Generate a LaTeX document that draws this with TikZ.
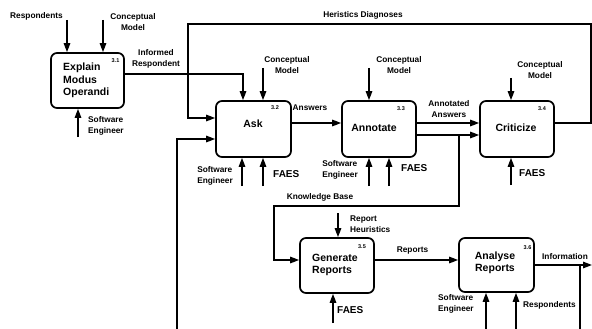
\documentclass[tikz,border=0pt]{standalone}
\usepackage{fontspec}
\setmainfont{Liberation Sans}
\usetikzlibrary{arrows.meta}
\begin{document}
\begin{tikzpicture}[x=1pt,y=-1pt,
  proc/.style={draw,line width=1.7pt,rounded corners=6pt,minimum width=#1,inner sep=0pt},
  flow/.style={line width=1.4pt,-{Triangle[length=9pt,width=6.5pt]}},
  plain/.style={line width=1.4pt},
  lbl/.style={font=\bfseries\fontsize{8.3}{11}\selectfont,align=center,inner sep=0pt},
  ttl/.style={font=\bfseries\fontsize{10.5}{12.5}\selectfont,align=left,inner sep=0pt},
  num/.style={font=\bfseries\fontsize{5.5}{6}\selectfont,inner sep=0pt},
  faes/.style={font=\bfseries\fontsize{10}{12}\selectfont,inner sep=0pt,anchor=west}
]
\useasboundingbox (0,0) rectangle (592,329);

% activity boxes
\node[proc=73pt,minimum height=55pt] (b1) at (87.5,80.5) {};
\node[proc=75pt,minimum height=56pt] (b2) at (253.5,129) {};
\node[proc=74pt,minimum height=56pt] (b3) at (379,129) {};
\node[proc=74pt,minimum height=56pt] (b4) at (517,129) {};
\node[proc=74pt,minimum height=55pt] (b5) at (337,265.5) {};
\node[proc=75pt,minimum height=54pt] (b6) at (496.5,265) {};

% box titles and numbers
\node[ttl,anchor=west] (t1) at (63,80.5) {Explain\\Modus\\Operandi};
\node[ttl] (t2) at (253,124) {Ask};
\node[ttl] (t3) at (374,128) {Annotate};
\node[ttl] (t4) at (516,128) {Criticize};
\node[ttl,anchor=west] (t5) at (312,265) {Generate\\Reports};
\node[ttl,align=center] (t6) at (495,263) {Analyse\\Reports};
\node[num] (n1) at (115.5,61) {3.1};
\node[num] (n2) at (275,108) {3.2};
\node[num] (n3) at (401,109) {3.3};
\node[num] (n4) at (542,109) {3.4};
\node[num] (n5) at (362,247) {3.5};
\node[num] (n6) at (527.5,248) {3.6};

% free ends of the connectors
\coordinate (r1) at (67,20);
\coordinate (c1) at (103,20);
\coordinate (s1) at (78,137);
\coordinate (inf) at (243,74);
\coordinate (c2) at (263,68);
\coordinate (s2) at (242,186);
\coordinate (f2) at (263,186);
\coordinate (c3) at (369,68);
\coordinate (s3) at (369,186);
\coordinate (f3) at (389,186);
\coordinate (c4) at (511,78);
\coordinate (f4) at (511,185);
\coordinate (hd1) at (591,24);
\coordinate (hd2) at (188,24);
\coordinate (lb) at (177,329);
\coordinate (kb) at (459,135);
\coordinate (kb2) at (274,206);
\coordinate (rh) at (338,213);
\coordinate (f5) at (333,323);
\coordinate (info) at (592,265);
\coordinate (fb) at (580,329);
\coordinate (s6) at (486,329);
\coordinate (r6) at (516,329);

% 3.1 Explain Modus Operandi
\draw[flow] (r1) -- (r1 |- b1.north);
\draw[flow] (c1) -- (c1 |- b1.north);
\draw[flow] (s1) -- (s1 |- b1.south);
\draw[flow] (b1.east |- inf) -- (inf) -- (inf |- b2.north);

% 3.2 Ask
\draw[flow] (c2) -- (c2 |- b2.north);
\draw[flow] (s2) -- (s2 |- b2.south);
\draw[flow] (f2) -- (f2 |- b2.south);
\draw[flow] ([yshift=6pt]b4.east) -| (hd1) -- (hd2) |- ([yshift=11pt]b2.west);
\draw[flow] (lb) |- ([yshift=-10pt]b2.west);
\draw[flow] ([yshift=6pt]b2.east) -- ([yshift=6pt]b3.west);

% 3.3 Annotate
\draw[flow] (c3) -- (c3 |- b3.north);
\draw[flow] (s3) -- (s3 |- b3.south);
\draw[flow] (f3) -- (f3 |- b3.south);
\draw[flow] ([yshift=6pt]b3.east) -- ([yshift=6pt]b4.west);
\draw[flow] ([yshift=-6pt]b3.east) -- ([yshift=-6pt]b4.west);
\draw[flow] (kb) |- (kb2) |- ([yshift=5.5pt]b5.west);

% 3.4 Criticize
\draw[flow] (c4) -- (c4 |- b4.north);
\draw[flow] (f4) -- (f4 |- b4.south);

% 3.5 Generate Reports
\draw[flow] (rh) -- (rh |- b5.north);
\draw[flow] (f5) -- (f5 |- b5.south);
\draw[flow] ([yshift=5.5pt]b5.east) -- ([yshift=5pt]b6.west);

% 3.6 Analyse Reports
\draw[flow] (b6.east) -- (info);
\draw[plain] (fb) -- (fb |- b6.east);
\draw[flow] (s6) -- (s6 |- b6.south);
\draw[flow] (r6) -- (r6 |- b6.south);

% labels
\node[lbl] (lr1) at (36.5,16) {Respondents};
\node[lbl] (lc1) at (133,22) {Conceptual\\Model};
\node[lbl,align=left,anchor=west] (ls1) at (88,125.5) {Software\\Engineer};
\node[lbl] (li1) at (156,59) {Informed\\Respondent};
\node[lbl] (lhd) at (363,15) {Heristics Diagnoses};
\node[lbl] (lc2) at (287,65.5) {Conceptual\\Model};
\node[lbl] (lan) at (310,108) {Answers};
\node[lbl,align=left,anchor=east] (ls2) at (233,176) {Software\\Engineer};
\node[faes] (lf2) at (273,174) {FAES};
\node[lbl] (lc3) at (399,65.5) {Conceptual\\Model};
\node[lbl,align=left,anchor=east] (ls3) at (358,169.5) {Software\\Engineer};
\node[faes] (lf3) at (401,168) {FAES};
\node[lbl] (laa) at (449,109) {Annotated\\Answers};
\node[lbl] (lc4) at (540,70.5) {Conceptual\\Model};
\node[faes] (lf4) at (519,173) {FAES};
\node[lbl] (lkb) at (320,197) {Knowledge Base};
\node[lbl,align=left,anchor=west] (lrh) at (350,224) {Report\\Heuristics};
\node[faes] (lf5) at (337,310) {FAES};
\node[lbl] (lrp) at (412.5,251) {Reports};
\node[lbl] (lin) at (565,257) {Information};
\node[lbl,align=left,anchor=west] (ls6) at (438,304) {Software\\Engineer};
\node[lbl,anchor=west] (lr6) at (523,305) {Respondents};
\end{tikzpicture}
\end{document}
